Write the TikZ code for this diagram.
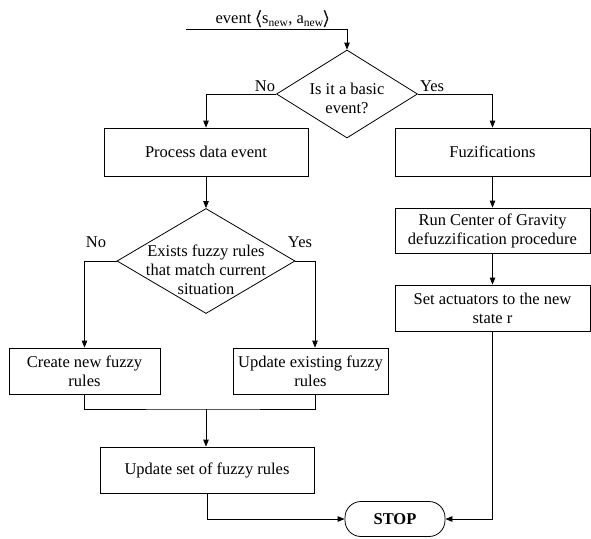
\documentclass[tikz,border=0pt]{standalone}
\usepackage{amsmath}
\usepackage{fontspec}
\setmainfont{Liberation Serif}
\usetikzlibrary{shapes.geometric,arrows.meta}
\begin{document}
\begin{tikzpicture}[x=1pt, y=-1pt, line width=0.8pt,
  every node/.style={align=center, font=\fontsize{16.5}{19}\selectfont},
  box/.style={draw, rectangle, inner sep=0pt},
  decision/.style={draw, diamond, inner sep=0pt},
  terminal/.style={draw, rounded corners=16pt, minimum width=100pt, minimum height=35pt, inner sep=0pt},
  flow/.style={-{Triangle[length=7pt,width=5.5pt]}}]
  \useasboundingbox (0,0) rectangle (591,538);

  \coordinate (start) at (186,29);
  \coordinate (bend) at (347,29);
  \node (evt) at (273,19) {event $\pmb{\langle}$s\textsubscript{new}, a\textsubscript{new}$\pmb{\rangle}$};

  \node [decision, minimum width=141pt, minimum height=88pt] (basic) at (347,94) {};
  \node (basictxt) at (347,98) {Is it a basic\\event?};
  \node (no1) at (265,86) {No};
  \node (yes1) at (432,86) {Yes};

  \node [box, minimum width=204pt, minimum height=48pt] (proc) at (206,152) {Process data event};
  \node [box, minimum width=195pt, minimum height=48pt] (fuz) at (492.5,152) {Fuzifications};
  \node [box, minimum width=195pt, minimum height=45pt] (cog) at (492.5,230.5) {Run Center of Gravity\\defuzzification procedure};
  \node [box, minimum width=195pt, minimum height=46pt] (act) at (492.5,308) {Set actuators to the new\\state r};

  \node [decision, minimum width=178pt, minimum height=105pt] (match) at (206,261) {};
  \node (matchtxt) at (206,270) {Exists fuzzy rules\\that match current\\situation};
  \node (no2) at (96,242) {No};
  \node (yes2) at (300,242) {Yes};

  \node [box, minimum width=151pt, minimum height=46pt] (create) at (84.5,371) {Create new fuzzy\\rules};
  \node [box, minimum width=155pt, minimum height=46pt] (upd) at (310.5,371) {Update existing fuzzy\\rules};
  \coordinate (ycorner) at (315,261);
  \coordinate (join) at (206,409);

  \node [box, minimum width=214pt, minimum height=46pt] (rules) at (207,470) {Update set of fuzzy rules};
  \node [terminal] (stop) at (395,519) {\textbf{STOP}};

  \draw [flow] (start) -- (bend) -- (basic.north);
  \draw [flow] (basic.west) -| (proc.north);
  \draw [flow] (basic.east) -| (fuz.north);
  \draw [flow] (fuz) -- (cog);
  \draw [flow] (cog) -- (act);
  \draw [flow] (proc) -- (match);
  \draw [flow] (match.west) -| (create.north);
  \draw [flow] (match.east) -- (ycorner) -- (ycorner |- upd.north);
  \draw (create.south) |- (join) -| (ycorner |- upd.south);
  \draw [flow] (join) -- (join |- rules.north);
  \draw [flow] (rules.south) |- (stop.west);
  \draw [flow] (act.south) |- (stop.east);
\end{tikzpicture}
\end{document}
